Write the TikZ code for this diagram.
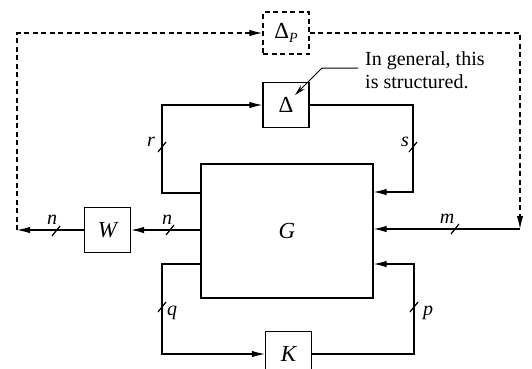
\documentclass[tikz,border=0pt]{standalone}
\usepackage{fontspec}
\setmainfont{Liberation Serif}
\usetikzlibrary{calc, positioning}
\usetikzlibrary{arrows.meta}

\tikzset{
  blk/.style={draw, line width=1.2pt, minimum width=46pt, minimum height=45pt,
    inner sep=0pt, font=\fontsize{23}{26}\selectfont},
  wire/.style={line width=1.2pt},
  sig/.style={wire, -{Latex[length=13pt,width=6.5pt]}},
  dsh/.style={dash pattern=on 5pt off 3.5pt},
  lbl/.style={font=\fontsize{20}{22}\selectfont\itshape, inner sep=0pt},
  lead/.style={line width=1pt, -{Stealth[length=11pt,width=5.5pt]}},
  slash/.pic={\draw[wire] (-4,5) -- (4,-5);}
}

\begin{document}
\begin{tikzpicture}[x=1pt,y=-1pt]
\clip (0,0) rectangle (532,368);

\node[blk, minimum width=172pt, minimum height=134pt] (G) at (287,231) {\itshape G};
\node[blk] (D) at (286,105) {Δ};
\node[blk, dsh, minimum height=42pt] (DP) at (286,33)
    {Δ\raisebox{-4pt}{\fontsize{14}{14}\selectfont\itshape P}};
\node[blk] (W) at (107.5,230) {\itshape W};
\node[blk] (K) at (288.5,354) {\itshape K};

\coordinate (rc) at (162,193);
\coordinate (sc) at (413,192);
\coordinate (qc) at (162,264);
\coordinate (pc) at (414,264);
\coordinate (nl) at (17,230);
\coordinate (mr) at (520,229);

\draw[sig] (G.west |- rc) -- (rc) |- (D);
\draw[sig] (D) -| (sc) -- (G.east |- sc);
\draw[sig] (G.west |- nl) -- (W);
\draw[sig] (W) -- (nl);
\draw[sig, dsh] (nl) |- (DP);
\draw[sig, dsh] (DP) -| (mr);
\draw[sig] (mr) -- (G.east |- mr);
\draw[sig] (G.west |- qc) -- (qc) |- (K);
\draw[sig] (K) -| (pc) -- (G.east |- pc);

\path (56,231) pic {slash} (170,230) pic {slash} (455,229) pic {slash}
      (162,147) pic {slash} (413,147) pic {slash}
      (162,307) pic {slash} (414,307) pic {slash};

\node[lbl] (n1) at (52,220) {n};
\node[lbl] (n2) at (167,220) {n};
\node[lbl] (m) at (447,219) {m};
\node[lbl] (r) at (151,142) {r};
\node[lbl] (s) at (405,142) {s};
\node[lbl] (q) at (172,313) {q};
\node[lbl] (p) at (428,313) {p};

\node[anchor=north west, inner sep=0pt, align=left,
    font=\fontsize{20}{23}\selectfont] (note) at (365,51)
    {In general, this\\is structured.};
\coordinate (ldr) at (358,68);
\coordinate (bend) at (322,68);
\coordinate (tip) at (295,95);
\draw[lead] (ldr) -- (bend) -- (tip);
\end{tikzpicture}
\end{document}
